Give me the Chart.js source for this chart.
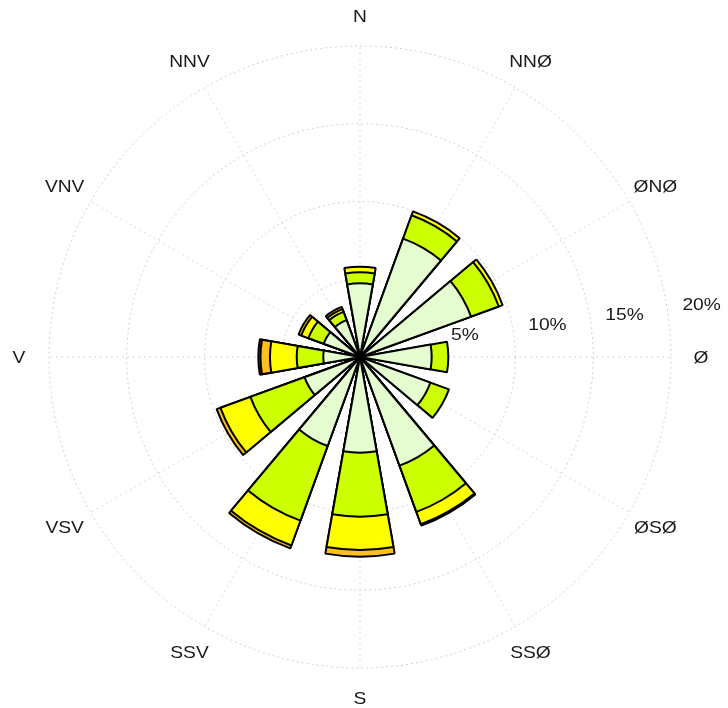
<!DOCTYPE html>
<html>
<head>
<meta charset="utf-8">
<script src="https://cdn.jsdelivr.net/npm/chart.js@4/dist/chart.umd.min.js"></script>
<style>
  html, body { margin: 0; padding: 0; background: #ffffff; }
  #wrap { width: 728px; height: 708px; }
</style>
</head>
<body>
<div id="wrap"><canvas id="rose" width="728" height="708"></canvas></div>
<script>
// Compass sectors, clockwise from north (12 sectors of 30°)
const directions = ['N', 'NNØ', 'ØNØ', 'Ø', 'ØSØ', 'SSØ', 'S', 'SSV', 'VSV', 'V', 'VNV', 'NNV'];

// Frequency (%) of each wind-speed class per sector, lowest class first
const band1 = [4.74, 8.10, 7.60, 4.61, 4.82, 7.43, 6.15, 6.09, 3.80, 2.36, 2.49, 2.52];
const band2 = [0.71, 1.60, 1.90, 1.07, 1.27, 3.17, 4.12, 5.11, 3.70, 1.71, 1.04, 0.57];
const band3 = [0.36, 0.27, 0.26, 0.00, 0.00, 0.85, 2.14, 1.70, 2.05, 1.72, 0.49, 0.19];
const band4 = [0.00, 0.00, 0.00, 0.00, 0.00, 0.09, 0.43, 0.20, 0.26, 0.61, 0.18, 0.15];
const band5 = [0.00, 0.00, 0.00, 0.00, 0.00, 0.00, 0.00, 0.00, 0.00, 0.14, 0.00, 0.00];

// Radial ticks (%)
const ringTicks = [5, 10, 15, 20];

const bands = [band1, band2, band3, band4, band5];
const bandColors = ['#e4fcd0', '#ccff00', '#ffff00', '#ffbf1f', '#c81400'];

const sectorDeg = 360 / directions.length;
const barDeg = 20;
const gapDeg = sectorDeg - barDeg;

// Each sector = one bar slot followed by an empty gap slot
const labels = [];
const angles = [];
directions.forEach(d => {
  labels.push(d, '');
  angles.push(barDeg, gapDeg);
});

// Bands are stacked by drawing cumulative wedges; the lowest class sits on top
const datasets = bands.map((band, k) => {
  const data = [];
  directions.forEach((_, i) => {
    let cum = 0;
    for (let j = 0; j <= k; j++) cum += bands[j][i];
    data.push(band[i] > 0 ? +cum.toFixed(3) : 0, 0);
  });
  return {
    data,
    backgroundColor: bandColors[k],
    borderColor: '#000000',
    borderWidth: ctx => (ctx.raw > 0 ? 2 : 0),
    angle: angles
  };
});

// Text drawn slightly widened, like the plot's Helvetica labels
function wideText(ctx, text, x, y, align) {
  const sx = 1.13;
  ctx.save();
  ctx.translate(x, y);
  ctx.scale(sx, 1);
  ctx.textAlign = align;
  ctx.fillText(text, 0, 0);
  ctx.restore();
}

const compassPlugin = {
  id: 'compass',
  beforeDatasetsDraw(chart) {
    const s = chart.scales.r;
    const ctx = chart.ctx;
    const R = s.getDistanceFromCenterForValue(s.max);
    ctx.save();
    ctx.strokeStyle = '#cdcdcd';
    ctx.lineWidth = 1;
    ctx.setLineDash([1.5, 4]);
    directions.forEach((_, i) => {
      const a = (i * sectorDeg - 90) * Math.PI / 180;
      ctx.beginPath();
      ctx.moveTo(s.xCenter, s.yCenter);
      ctx.lineTo(s.xCenter + R * Math.cos(a), s.yCenter + R * Math.sin(a));
      ctx.stroke();
    });
    ctx.restore();
  },
  afterDraw(chart) {
    const s = chart.scales.r;
    const ctx = chart.ctx;
    const R = s.getDistanceFromCenterForValue(s.max);
    ctx.save();
    ctx.fillStyle = '#1a1a1a';
    ctx.font = '17px "Liberation Sans", Arial, sans-serif';
    ctx.textBaseline = 'middle';
    directions.forEach((d, i) => {
      const a = (i * sectorDeg - 90) * Math.PI / 180;
      const r = R + 30;
      wideText(ctx, d, s.xCenter + r * Math.cos(a), s.yCenter + r * Math.sin(a) + 1, 'center');
    });
    // ring labels along a line just above east
    const la = 7.4 * Math.PI / 180;
    ringTicks.forEach(v => {
      const r = s.getDistanceFromCenterForValue(v);
      wideText(ctx, v + '%', s.xCenter + r * Math.cos(la) + 14, s.yCenter - r * Math.sin(la) - 12, 'left');
    });
    ctx.restore();
  }
};

new Chart(document.getElementById('rose'), {
  type: 'polarArea',
  data: { labels, datasets },
  options: {
    responsive: false,
    animation: false,
    events: [],
    layout: { padding: { left: 49, right: 57, top: 46, bottom: 40 } },
    plugins: {
      legend: { display: false },
      tooltip: { enabled: false }
    },
    scales: {
      r: {
        min: 0,
        max: 20,
        startAngle: -barDeg / 2,
        ticks: { display: false, stepSize: 5 },
        grid: { circular: true, color: '#cdcdcd', lineWidth: 1 },
        border: { dash: [2, 3] },
        angleLines: { display: false },
        pointLabels: { display: false }
      }
    }
  },
  plugins: [compassPlugin]
});
</script>
</body>
</html>
